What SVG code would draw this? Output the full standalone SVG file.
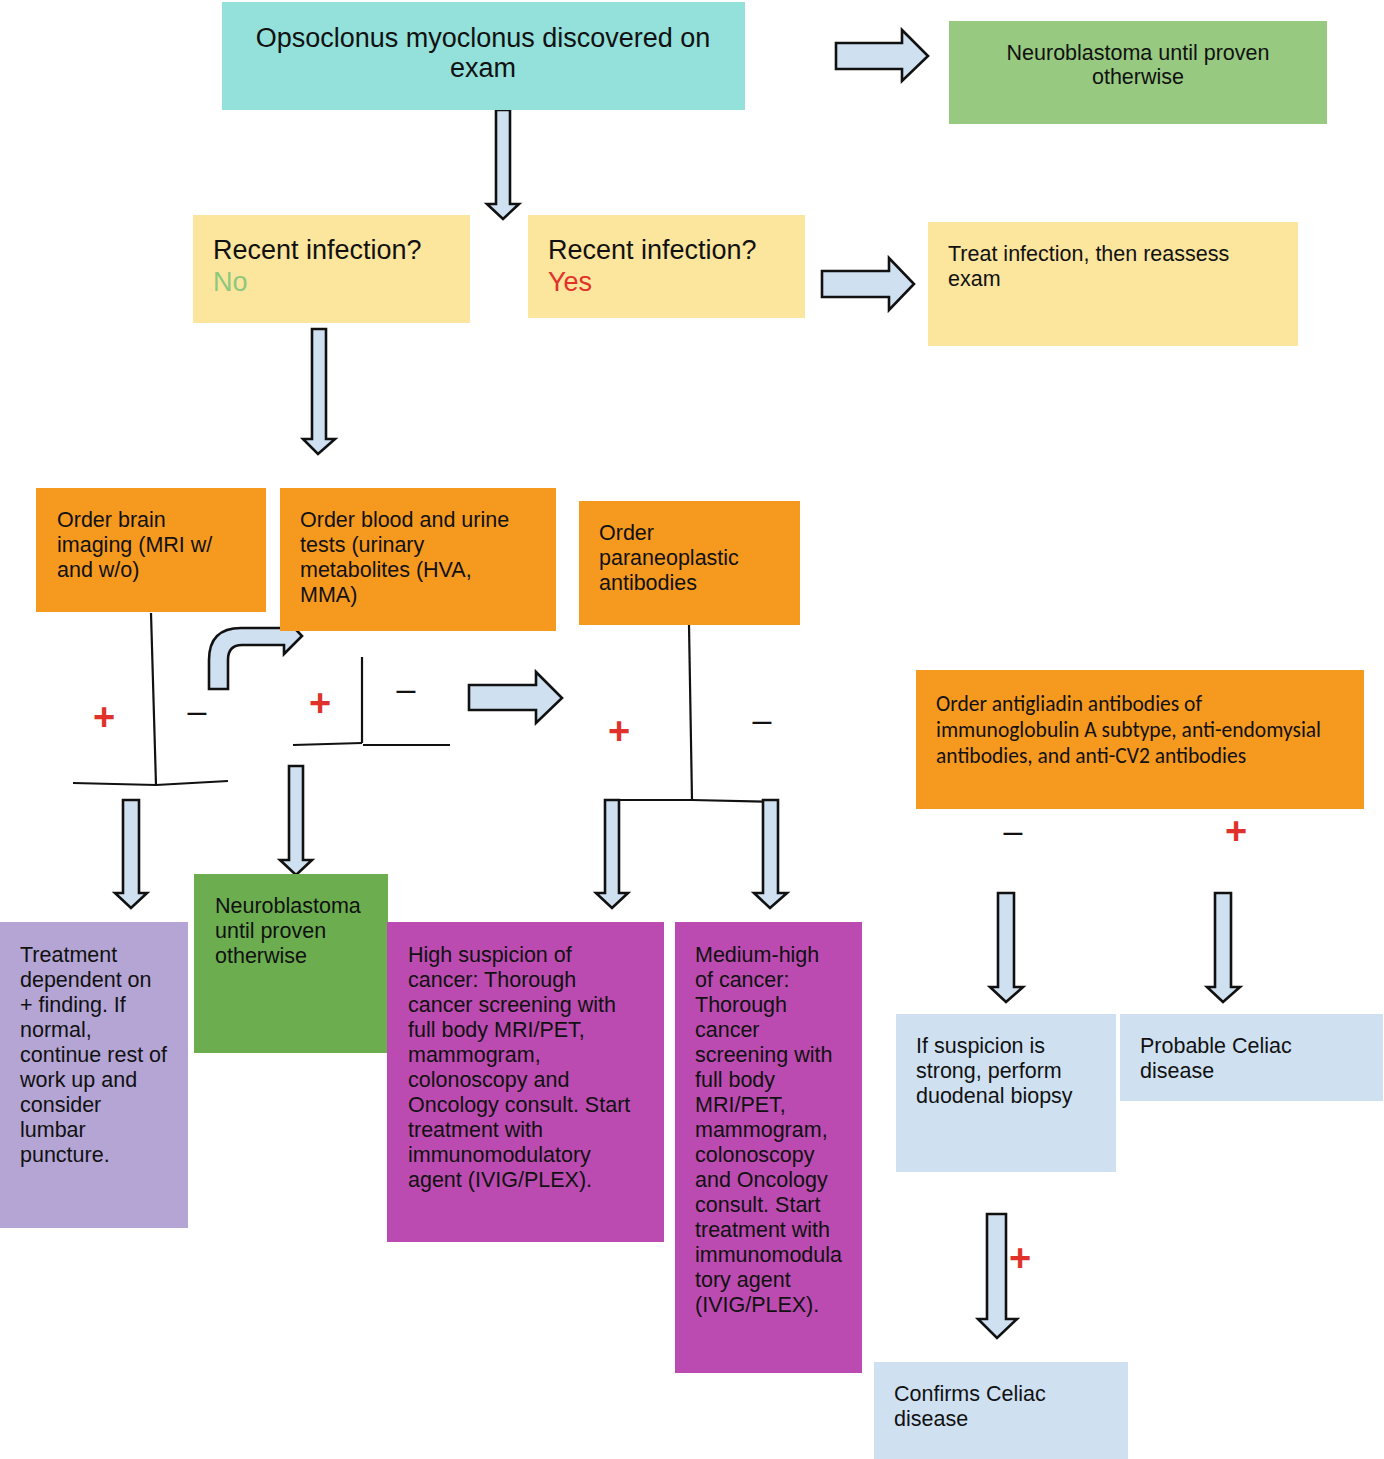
<svg xmlns="http://www.w3.org/2000/svg" width="1384" height="1459" viewBox="0 0 1384 1459">
<style>
text{font-family:"Liberation Sans",Arial,sans-serif;fill:#111}
.big{font-size:27px}
.md{font-size:21.5px}
.cal{font-family:Carlito,Lato,"Liberation Sans",sans-serif;font-size:21.5px}
.plus{font-size:38px;font-weight:bold;fill:#E0322A;text-anchor:middle}
.minus{font-size:34px;text-anchor:middle}
.arr{fill:#CFE1F1;stroke:#111;stroke-width:2.6;stroke-linejoin:miter}
.ln{fill:none;stroke:#111;stroke-width:2.2}
</style>
<rect width="1384" height="1459" fill="#fff"/>

<g id="connectors">
  <path class="arr" d="M496,110 L510,110 L510,204 L519,204 L503,219 L487,204 L496,204 Z"/>
  <path class="arr" d="M836,43 L902,43 L902,30 L928,56 L902,81 L902,69 L836,69 Z"/>
  <path class="arr" d="M822,271 L889,271 L889,258 L914,284 L889,310 L889,297 L822,297 Z"/>
  <path class="arr" d="M312,329 L326,329 L326,439 L335,439 L318,454 L303,439 L312,439 Z"/>
  <path class="arr" d="M209,689 L209,660 Q209,628 241,628 L284,628 L284,617 L302,636 L284,654 L284,645 L242,645 Q228,645 228,660 L228,689 Z"/>
  <path class="ln" d="M151,613 L156,785"/>
  <path class="ln" d="M73,783 L156,785 L228,781"/>
  <path class="ln" d="M362,657 L362,743"/>
  <path class="ln" d="M293,745 L362,743"/>
  <path class="ln" d="M363,745 L450,745"/>
  <path class="arr" d="M469,685 L536,685 L536,672 L562,698 L536,723 L536,710 L469,710 Z"/>
  <path class="arr" d="M123,800 L139,800 L139,893 L147,893 L131,908 L115,893 L123,893 Z"/>
  <path class="arr" d="M289,766 L303,766 L303,860 L312,860 L296,875 L280,860 L289,860 Z"/>
  <path class="ln" d="M689,625 L692,800"/>
  <path class="ln" d="M604,800 L692,800 L778,802"/>
  <path class="arr" d="M605,800 L619,800 L619,893 L628,893 L612,908 L596,893 L605,893 Z"/>
  <path class="arr" d="M763,800 L778,800 L778,893 L787,893 L770,908 L754,893 L763,893 Z"/>
  <path class="arr" d="M998,893 L1014,893 L1014,987 L1023,987 L1006,1002 L990,987 L998,987 Z"/>
  <path class="arr" d="M1215,893 L1231,893 L1231,987 L1240,987 L1223,1002 L1207,987 L1215,987 Z"/>
  <path class="arr" d="M987,1214 L1006,1214 L1006,1319 L1017,1319 L997,1338 L978,1319 L987,1319 Z"/>
</g>

<g id="labels">
  <text class="plus" x="104" y="730">+</text>
  <text class="minus" x="197" y="722">–</text>
  <text class="plus" x="320" y="716">+</text>
  <text class="minus" x="406" y="700">–</text>
  <text class="plus" x="619" y="744">+</text>
  <text class="minus" x="762" y="731">–</text>
  <text class="minus" x="1013" y="842">–</text>
  <text class="plus" x="1236" y="844">+</text>
  <text class="plus" x="1020" y="1271">+</text>
</g>

<g id="n-opsoclonus">
  <rect x="222" y="2" width="523" height="108" fill="#93E1DA"/>
  <text class="big" x="483" y="47" text-anchor="middle">Opsoclonus myoclonus discovered on</text>
  <text class="big" x="483" y="77" text-anchor="middle">exam</text>
</g>

<g id="n-neuro-top">
  <rect x="949" y="21" width="378" height="103" fill="#97CA80"/>
  <text class="md" x="1138" y="60" text-anchor="middle">Neuroblastoma until proven</text>
  <text class="md" x="1138" y="84" text-anchor="middle">otherwise</text>
</g>

<g id="n-infection-no">
  <rect x="193" y="215" width="277" height="108" fill="#FCE59D"/>
  <text class="big" x="213" y="259">Recent infection?</text>
  <text class="big" x="213" y="291" style="fill:#8CC97E">No</text>
</g>

<g id="n-infection-yes">
  <rect x="528" y="215" width="277" height="103" fill="#FCE59D"/>
  <text class="big" x="548" y="259">Recent infection?</text>
  <text class="big" x="548" y="291" style="fill:#E0322A">Yes</text>
</g>

<g id="n-treat-infection">
  <rect x="928" y="222" width="370" height="124" fill="#FCE59D"/>
  <text class="md" x="948" y="261">Treat infection, then reassess</text>
  <text class="md" x="948" y="286">exam</text>
</g>

<g id="n-brain-imaging">
  <rect x="36" y="488" width="230" height="124" fill="#F6991F"/>
  <text class="md" x="57" y="527">Order brain</text>
  <text class="md" x="57" y="552">imaging (MRI w/</text>
  <text class="md" x="57" y="577">and w/o)</text>
</g>

<g id="n-blood-urine">
  <rect x="280" y="488" width="276" height="143" fill="#F6991F"/>
  <text class="md" x="300" y="527">Order blood and urine</text>
  <text class="md" x="300" y="552">tests (urinary</text>
  <text class="md" x="300" y="577">metabolites (HVA,</text>
  <text class="md" x="300" y="602">MMA)</text>
</g>

<g id="n-paraneoplastic">
  <rect x="579" y="501" width="221" height="124" fill="#F6991F"/>
  <text class="md" x="599" y="540">Order</text>
  <text class="md" x="599" y="565">paraneoplastic</text>
  <text class="md" x="599" y="590">antibodies</text>
</g>

<g id="n-antigliadin">
  <rect x="916" y="670" width="448" height="139" fill="#F6991F"/>
  <text class="cal" x="936" y="711">Order antigliadin antibodies of</text>
  <text class="cal" x="936" y="737">immunoglobulin A subtype, anti-endomysial</text>
  <text class="cal" x="936" y="763">antibodies, and anti-CV2 antibodies</text>
</g>

<g id="n-treatment-dependent">
  <rect x="0" y="922" width="188" height="306" fill="#B4A5D4"/>
  <text class="md" x="20" y="962">Treatment</text>
  <text class="md" x="20" y="987">dependent on</text>
  <text class="md" x="20" y="1012">+ finding. If</text>
  <text class="md" x="20" y="1037">normal,</text>
  <text class="md" x="20" y="1062">continue rest of</text>
  <text class="md" x="20" y="1087">work up and</text>
  <text class="md" x="20" y="1112">consider</text>
  <text class="md" x="20" y="1137">lumbar</text>
  <text class="md" x="20" y="1162">puncture.</text>
</g>

<g id="n-neuro-bottom">
  <rect x="194" y="874" width="194" height="179" fill="#6BAD4F"/>
  <text class="md" x="215" y="913">Neuroblastoma</text>
  <text class="md" x="215" y="938">until proven</text>
  <text class="md" x="215" y="963">otherwise</text>
</g>

<g id="n-high-suspicion">
  <rect x="387" y="922" width="277" height="320" fill="#BB4BB0"/>
  <text class="md" x="408" y="962">High suspicion of</text>
  <text class="md" x="408" y="987">cancer: Thorough</text>
  <text class="md" x="408" y="1012">cancer screening with</text>
  <text class="md" x="408" y="1037">full body MRI/PET,</text>
  <text class="md" x="408" y="1062">mammogram,</text>
  <text class="md" x="408" y="1087">colonoscopy and</text>
  <text class="md" x="408" y="1112">Oncology consult. Start</text>
  <text class="md" x="408" y="1137">treatment with</text>
  <text class="md" x="408" y="1162">immunomodulatory</text>
  <text class="md" x="408" y="1187">agent (IVIG/PLEX).</text>
</g>

<g id="n-medium-high">
  <rect x="675" y="922" width="187" height="451" fill="#BB4BB0"/>
  <text class="md" x="695" y="962">Medium-high</text>
  <text class="md" x="695" y="987">of cancer:</text>
  <text class="md" x="695" y="1012">Thorough</text>
  <text class="md" x="695" y="1037">cancer</text>
  <text class="md" x="695" y="1062">screening with</text>
  <text class="md" x="695" y="1087">full body</text>
  <text class="md" x="695" y="1112">MRI/PET,</text>
  <text class="md" x="695" y="1137">mammogram,</text>
  <text class="md" x="695" y="1162">colonoscopy</text>
  <text class="md" x="695" y="1187">and Oncology</text>
  <text class="md" x="695" y="1212">consult. Start</text>
  <text class="md" x="695" y="1237">treatment with</text>
  <text class="md" x="695" y="1262">immunomodula</text>
  <text class="md" x="695" y="1287">tory agent</text>
  <text class="md" x="695" y="1312">(IVIG/PLEX).</text>
</g>

<g id="n-suspicion-strong">
  <rect x="896" y="1014" width="220" height="158" fill="#CFE1F1"/>
  <text class="md" x="916" y="1053">If suspicion is</text>
  <text class="md" x="916" y="1078">strong, perform</text>
  <text class="md" x="916" y="1103">duodenal biopsy</text>
</g>

<g id="n-probable-celiac">
  <rect x="1120" y="1014" width="263" height="87" fill="#CFE1F1"/>
  <text class="md" x="1140" y="1053">Probable Celiac</text>
  <text class="md" x="1140" y="1078">disease</text>
</g>

<g id="n-confirms-celiac">
  <rect x="874" y="1362" width="254" height="97" fill="#CFE1F1"/>
  <text class="md" x="894" y="1401">Confirms Celiac</text>
  <text class="md" x="894" y="1426">disease</text>
</g>
</svg>
